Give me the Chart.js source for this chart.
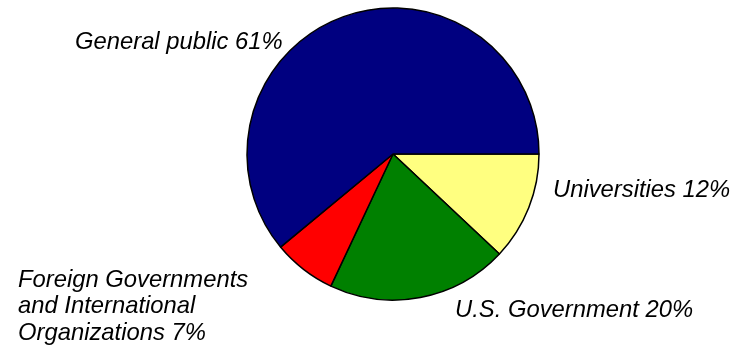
<!DOCTYPE html>
<html>
<head>
<meta charset="utf-8">
<script src="https://cdn.jsdelivr.net/npm/chart.js@4/dist/chart.umd.min.js"></script>
<style>
  html, body { margin: 0; padding: 0; background: #ffffff; }
  #wrap { width: 742px; height: 348px; position: relative; }
</style>
</head>
<body>
<div id="wrap"><canvas id="c" width="742" height="348"></canvas></div>
<script>
// Data (clockwise from 3 o'clock)
const categories = ['Universities', 'U.S. Government', 'Foreign Governments and International Organizations', 'General public'];
const shares = [12, 20, 7, 61];
const sliceColors = ['#FFFF80', '#008000', '#FF0000', '#000080'];

// Label placement, relative to pie centre (px), first-line baseline, left aligned
const labelOffsets = [
  { dx: 160, dy: 43, maxW: 400 },
  { dx: 62, dy: 163, maxW: 400 },
  { dx: -375, dy: 133, maxW: 240 },
  { dx: -318, dy: -105, maxW: 400 }
];
const FONT = 'italic 23.8px "Liberation Sans", Arial, Helvetica, sans-serif';
const LINE_H = 26.3;

function wrap(ctx, text, maxW) {
  const words = text.split(' ');
  const lines = [];
  let cur = '';
  for (const w of words) {
    const t = cur ? cur + ' ' + w : w;
    if (ctx.measureText(t).width > maxW && cur) { lines.push(cur); cur = w; }
    else cur = t;
  }
  if (cur) lines.push(cur);
  return lines;
}

const labelPlugin = {
  id: 'sliceLabels',
  afterDraw(chart) {
    const ctx = chart.ctx;
    const meta = chart.getDatasetMeta(0);
    if (!meta.data.length) return;
    const cx = meta.data[0].x, cy = meta.data[0].y;
    ctx.save();
    ctx.font = FONT;
    ctx.fillStyle = '#000000';
    ctx.textAlign = 'left';
    ctx.textBaseline = 'alphabetic';
    categories.forEach((name, i) => {
      const o = labelOffsets[i];
      const lines = wrap(ctx, name + ' ' + shares[i] + '%', o.maxW);
      lines.forEach((ln, k) => ctx.fillText(ln, cx + o.dx, cy + o.dy + k * LINE_H));
    });
    ctx.restore();
  }
};

new Chart(document.getElementById('c'), {
  type: 'pie',
  data: {
    labels: categories,
    datasets: [{
      data: shares,
      backgroundColor: sliceColors,
      borderColor: '#000000',
      borderWidth: 1.5
    }]
  },
  options: {
    responsive: false,
    animation: false,
    rotation: 90,
    radius: 146,
    layout: { padding: { left: 247, right: 203, top: 8, bottom: 48 } },
    plugins: {
      legend: { display: false },
      tooltip: { enabled: false }
    }
  },
  plugins: [labelPlugin]
});
</script>
</body>
</html>
